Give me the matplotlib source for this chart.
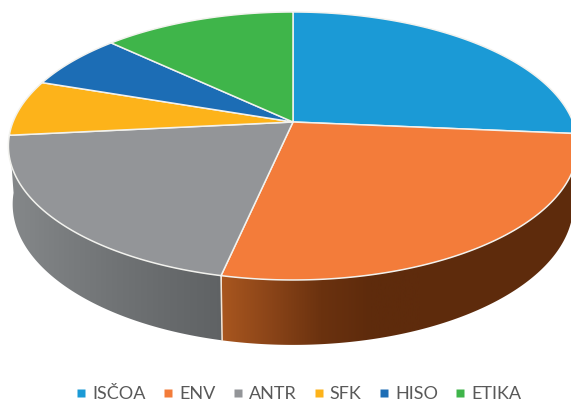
import numpy as np
import matplotlib
matplotlib.use('Agg')
import matplotlib.pyplot as plt
from matplotlib.lines import Line2D
from matplotlib.patches import Polygon

# slice shares, clockwise from 12 o'clock
labels = ['ISČOA', 'ENV', 'ANTR', 'SFK', 'HISO', 'ETIKA']
shares = [26.4, 27.0, 20.0, 6.8, 6.8, 13.0]
colors = ['#1b9ad6', '#f37c3a', '#939598', '#fdb31a', '#1c6db5', '#3fb54a']

# shading of the visible rim, left to right
side_colors = {
    'ENV': ['#a8561f', '#8a4418', '#6b320f', '#5e2b0c', '#5e2b0c'],
    'ANTR': ['#85888a', '#7a7d7f', '#707375', '#676a6c', '#5f6264'],
}

# pie geometry in pixels
CX, CY = 293, 122
RX, RY = 280, 129.7
TILT = 0.179
DEPTH = 57
BOTTOM_SCALE = 0.985


def top_rim(theta):
    u, v = np.sin(theta), np.cos(theta)
    w = 1 + TILT * v
    return CX + RX * u / w, CY - RY * v / w


def bottom_rim(theta):
    x, y = top_rim(theta)
    w = 1 + TILT * np.cos(theta)
    return CX + (x - CX) * BOTTOM_SCALE, y + DEPTH / w ** 0.66


fig = plt.figure(figsize=(5.71, 4.03), dpi=100)
ax = fig.add_axes([0, 0, 1, 1])
ax.set_xlim(0, 571)
ax.set_ylim(403, 0)
ax.axis('off')

edges = np.cumsum([0] + shares) / sum(shares) * 2 * np.pi

# rim first, so the top faces sit over it
for i, name in enumerate(labels):
    if name not in side_colors:
        continue
    t = np.linspace(edges[i], edges[i + 1], 200)
    xt, yt = top_rim(t)
    xb, yb = bottom_rim(t)
    pts = np.r_[np.c_[xt, yt], np.c_[xb, yb][::-1]]
    poly = Polygon(pts, closed=True, facecolor='none', edgecolor='none')
    ax.add_patch(poly)
    cmap = matplotlib.colors.LinearSegmentedColormap.from_list(name, side_colors[name])
    if name == 'ENV':
        extent = (222, 420, 403, 0)
    else:
        extent = (10, 224, 403, 0)
    im = ax.imshow(np.linspace(0, 1, 256)[None, :], cmap=cmap, extent=extent,
                   aspect='auto', zorder=1)
    im.set_clip_path(poly)
    if name == 'ENV':
        # the dark end carries on past the gradient
        dark = ax.imshow([[0]], cmap=matplotlib.colors.ListedColormap([side_colors[name][-1]]),
                         extent=(420, 575, 403, 0), aspect='auto', zorder=1)
        dark.set_clip_path(poly)

ax.set_xlim(0, 571)
ax.set_ylim(403, 0)

# seam between the two front slices
x1, y1 = top_rim(edges[2])
x2, y2 = bottom_rim(edges[2])
ax.plot([x1, x2], [y1, y2], color='#f4e6d8', lw=1.1, zorder=2)

# top faces
for i, name in enumerate(labels):
    t = np.linspace(edges[i], edges[i + 1], 200)
    xt, yt = top_rim(t)
    pts = np.r_[[[CX, CY]], np.c_[xt, yt]]
    ax.add_patch(Polygon(pts, closed=True, facecolor=colors[i], edgecolor='#f2f2ee',
                         linewidth=1.1, joinstyle='round', zorder=3))

handles = [Line2D([], [], linestyle='none', marker='s', markersize=5.4,
                  markerfacecolor=c, markeredgecolor='none') for c in colors]
leg = fig.legend(handles, labels, loc='lower center', bbox_to_anchor=(0.523, -0.038), ncol=6,
                 frameon=False, prop={'family': 'Lato', 'size': 13},
                 handlelength=0.6, handletextpad=0.3, columnspacing=0.95,
                 labelcolor='#595959')

fig.savefig('out.png', dpi=100, facecolor='white')
